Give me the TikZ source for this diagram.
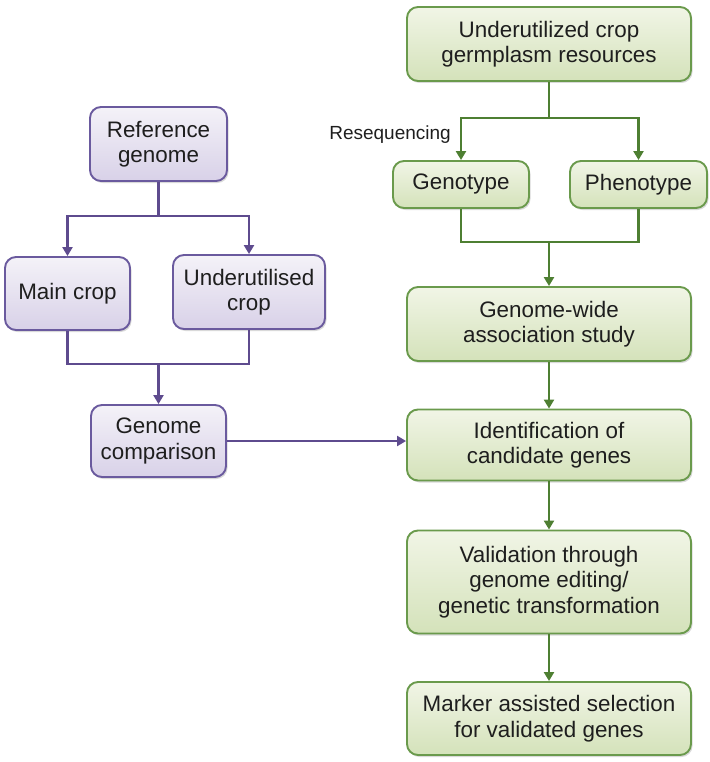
\documentclass[tikz,border=0pt]{standalone}
\usepackage{fontspec}
\setmainfont{Liberation Sans}
\usetikzlibrary{arrows.meta,shadows}
\definecolor{pborder}{HTML}{6A5A9E}
\definecolor{pline}{HTML}{5E4B8E}
\definecolor{ptop}{HTML}{F4F2F8}
\definecolor{pbot}{HTML}{D8D1E8}
\definecolor{gborder}{HTML}{6A9A4C}
\definecolor{gline}{HTML}{4E7F32}
\definecolor{gtop}{HTML}{F1F5E6}
\definecolor{gbot}{HTML}{D4E2BA}
\definecolor{txt}{HTML}{1E1E1E}
\tikzset{
  basebox/.style={rounded corners=11pt, line width=1.9pt, align=center,
    inner sep=0pt, text=txt, font=\fontsize{22.4}{25.5}\selectfont,
    drop shadow={shadow xshift=1.5pt, shadow yshift=-2pt, opacity=0.25, fill=black!60}},
  pbox/.style={basebox, draw=pborder, top color=ptop, bottom color=pbot},
  gbox/.style={basebox, draw=gborder, top color=gtop, bottom color=gbot},
  pcon/.style={draw=pline, line width=2.3pt, -{Triangle[length=9pt,width=10pt]}},
  pseg/.style={draw=pline, line width=2.3pt},
  gcon/.style={draw=gline, line width=2.3pt, -{Triangle[length=9pt,width=10pt]}},
  gseg/.style={draw=gline, line width=2.3pt},
  sz/.style 2 args={minimum width=#1pt, minimum height=#2pt}
}
\begin{document}
\begin{tikzpicture}[x=1pt,y=-1pt]
\useasboundingbox (0,0) rectangle (709,762);
% left column
\node[pbox, sz={137}{74}] (ref) at (158.5,144) {Reference\\genome};
\node[pbox, sz={125}{73}] (main) at (67.5,293.5) {Main crop};
\node[pbox, sz={152}{74}] (under) at (249,292) {Underutilised\\crop};
\node[pbox, sz={135}{72}] (gc) at (158.5,441) {Genome\\comparison};
% right column
\node[gbox, sz={284}{74}] (germ) at (549,44) {Underutilized crop\\germplasm resources};
\node[gbox, sz={136}{47}] (geno) at (461,184.5) {Genotype};
\node[gbox, sz={137}{47}] (pheno) at (638.5,184.5) {Phenotype};
\node[gbox, sz={284}{74}] (gwas) at (549,324) {Genome-wide\\association study};
\node[gbox, sz={284}{71}] (ident) at (549,445) {Identification of\\candidate genes};
\node[gbox, sz={284}{103}] (valid) at (549,582) {Validation through\\genome editing/\\genetic transformation};
\node[gbox, sz={284}{73}] (marker) at (549,718.5) {Marker assisted selection\\for validated genes};
\node[anchor=east, inner sep=0pt, text=txt, font=\fontsize{19}{22}\selectfont] (reseq) at (451,135) {Resequencing};
% coordinates
\coordinate (rj) at (158.5,216);
\coordinate (mj) at (158.5,364);
\coordinate (gj) at (549,118);
\coordinate (pj) at (549,242);
% left connectors
\draw[pseg] (ref.south) -- (rj);
\draw[pcon] (rj) -| (main.north);
\draw[pcon] (rj) -| (under.north);
\draw[pseg] (main.south) |- (mj);
\draw[pseg] (under.south) |- (mj);
\draw[pcon] (mj) -- (gc.north);
\draw[pcon] (gc.east) -- (gc.east -| ident.west);
% right connectors
\draw[gseg] (germ.south) -- (gj);
\draw[gcon] (gj) -| (geno.north);
\draw[gcon] (gj) -| (pheno.north);
\draw[gseg] (geno.south) |- (pj);
\draw[gseg] (pheno.south) |- (pj);
\draw[gcon] (pj) -- (gwas.north);
\draw[gcon] (gwas.south) -- (ident.north);
\draw[gcon] (ident.south) -- (valid.north);
\draw[gcon] (valid.south) -- (marker.north);
\end{tikzpicture}
\end{document}
